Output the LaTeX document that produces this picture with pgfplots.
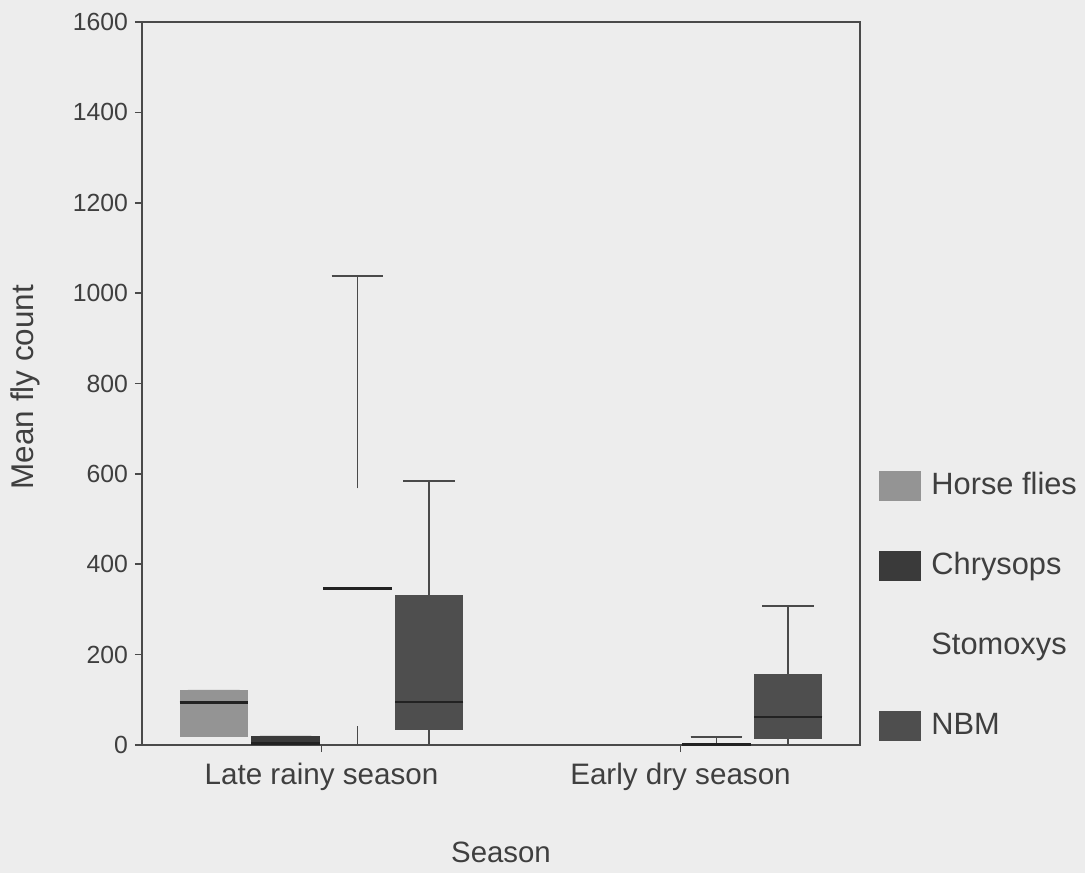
\documentclass[border=0pt]{standalone}
\usepackage{pgfplots}
\pgfplotsset{compat=1.18}
\usepgfplotslibrary{statistics}
\usetikzlibrary{backgrounds}
\usepackage{fontspec}
\setmainfont{Liberation Sans}

\definecolor{bgc}{HTML}{EDEDED}
\definecolor{axc}{HTML}{4A4A4A}
\definecolor{txc}{HTML}{3F3F3F}
\definecolor{hfc}{HTML}{949494}
\definecolor{chc}{HTML}{3A3A3A}
\definecolor{nbc}{HTML}{4E4E4E}
\definecolor{medc}{HTML}{222222}

\begin{document}
\begin{tikzpicture}
\begin{axis}[
    scale only axis,
    width=359pt, height=361.5pt,
    xmin=0, xmax=10, ymin=0, ymax=1600,
    xtick={2.5,7.5},
    xticklabels={Late rainy season, Early dry season},
    ytick={0,200,...,1600},
    /pgf/number format/assume math mode=true,
    /pgf/number format/1000 sep={},
    tick align=outside,
    xtick pos=bottom, ytick pos=left,
    major tick length=3.5pt,
    axis line style={draw=axc, line width=0.8pt},
    every tick/.style={draw=axc, line width=0.8pt},
    yticklabel style={font=\fontsize{12.4}{14}\selectfont, text=txc},
    xticklabel style={font=\fontsize{14.8}{17}\selectfont, text=txc, yshift=-2pt},
    xlabel={Season},
    ylabel={Mean fly count},
    xlabel style={font=\fontsize{14.7}{17}\selectfont, text=txc, at={(0.5,-0.149)}, anchor=center},
    ylabel style={font=\fontsize{15.7}{18}\selectfont, text=txc, at={(-0.163,0.495)}, anchor=center},
    boxplot/draw direction=y,
    boxplot/box extend=0.95,
    boxplot/whisker extend=0.72,
    boxplot/every box/.style={draw=none},
    boxplot/every whisker/.style={draw=axc, line width=0.9pt},
    boxplot/every median/.style={draw=medc, line width=1.4pt},
    legend image code/.code={\fill[#1, draw=none] (0pt,-7.5pt) rectangle (21pt,7.5pt);
        \path (26pt,0pt);},
    legend style={at={(1.0265,0.192)}, anchor=west, draw=none, fill=none,
        inner sep=0pt, outer sep=0pt, row sep=25pt,
        font=\fontsize{15.4}{18}\selectfont, text=txc,
        nodes={inner sep=0pt, text height=11.5pt, text depth=3.5pt}},
    legend cell align=left,
]
\coordinate (sw) at (rel axis cs:0,0);

\addlegendimage{fill=hfc}
\addlegendentry{Horse flies}
\addlegendimage{fill=chc}
\addlegendentry{Chrysops}
\addlegendimage{fill=bgc}
\addlegendentry{Stomoxys}
\addlegendimage{fill=nbc}
\addlegendentry{NBM}

% Late rainy season
\addplot[forget plot, fill=hfc, boxplot/every whisker/.style={draw=none},
    boxplot prepared={draw position=1, lower whisker=18, lower quartile=18,
    median=94, upper quartile=122, upper whisker=122}] coordinates {};
\addplot[forget plot, fill=chc, boxplot/every whisker/.style={draw=none},
    boxplot prepared={draw position=2, lower whisker=0, lower quartile=0,
    median=3, upper quartile=20, upper whisker=20}] coordinates {};
\addplot[forget plot, fill=none,
    boxplot prepared={draw position=3, lower whisker=0, lower quartile=42,
    median=346, upper quartile=568, upper whisker=1038}] coordinates {};
\addplot[forget plot, fill=nbc,
    boxplot prepared={draw position=4, lower whisker=0, lower quartile=33,
    median=95, upper quartile=332, upper whisker=585}] coordinates {};

% Early dry season
\addplot[forget plot, fill=chc,
    boxplot prepared={draw position=8, lower whisker=0, lower quartile=0,
    median=1, upper quartile=4, upper whisker=18}] coordinates {};
\addplot[forget plot, fill=nbc,
    boxplot prepared={draw position=9, lower whisker=0, lower quartile=13,
    median=62, upper quartile=157, upper whisker=308}] coordinates {};
\end{axis}
\pgfresetboundingbox
\path[use as bounding box] (sw) ++(-71pt,-64pt) coordinate (bl)
    rectangle ++(542.5pt,436.5pt) coordinate (tr);
\begin{scope}[on background layer]
\fill[bgc] (bl) rectangle (tr);
\end{scope}
\end{tikzpicture}
\end{document}
